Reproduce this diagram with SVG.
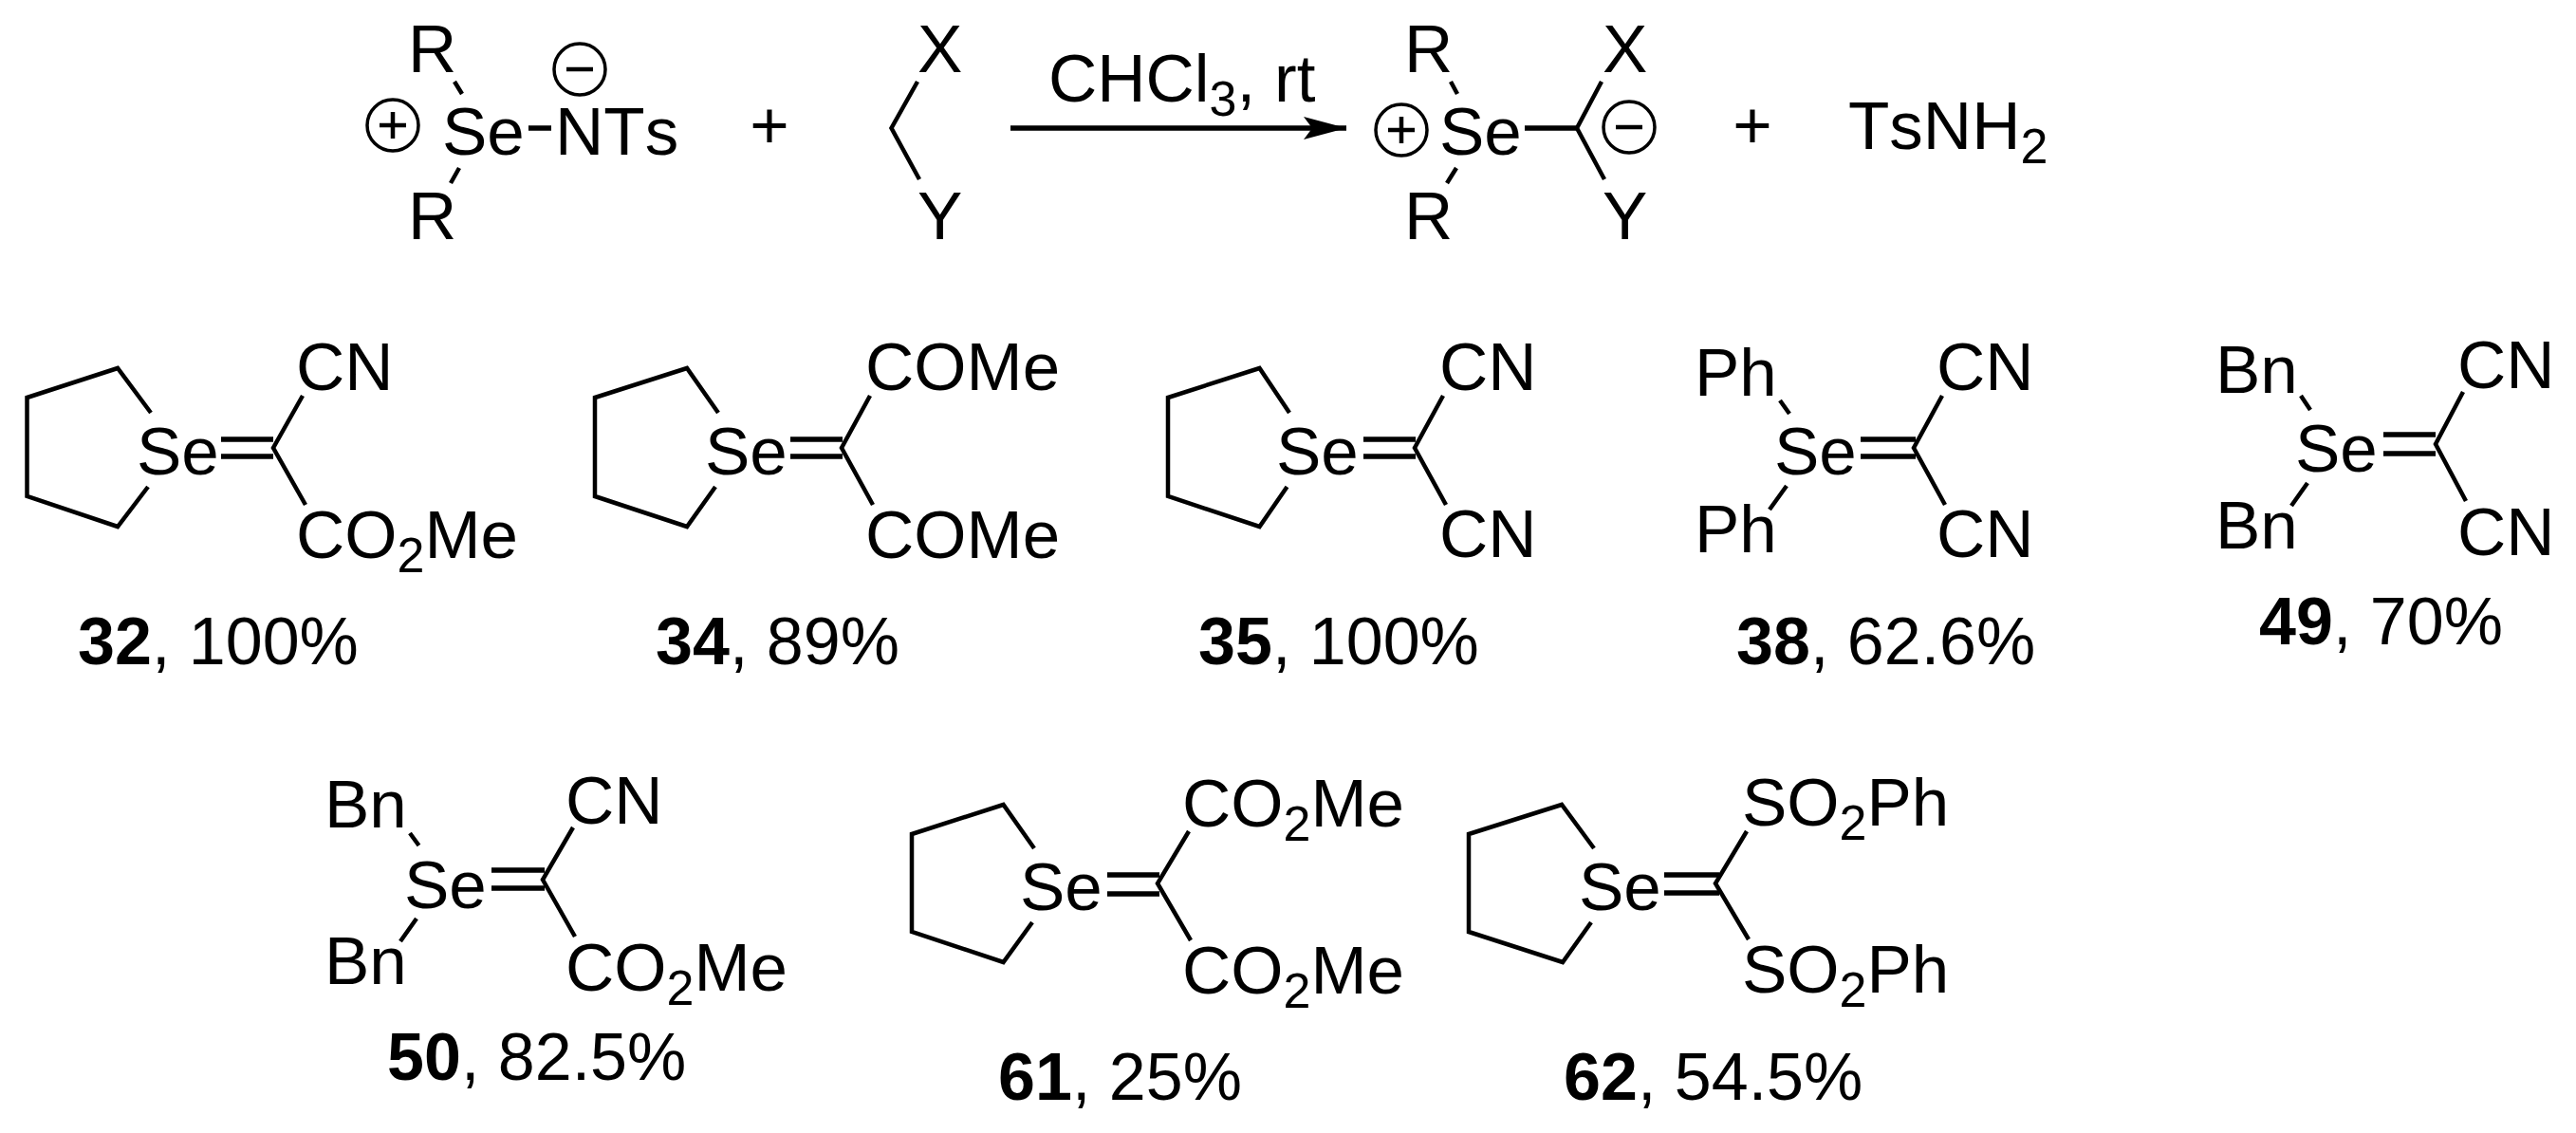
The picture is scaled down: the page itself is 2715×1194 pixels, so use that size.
<svg xmlns="http://www.w3.org/2000/svg" width="2715" height="1194" viewBox="0 0 2715 1194">
<style>
text{font-family:"Liberation Sans",Arial,sans-serif;font-size:71px;font-kerning:none;fill:#000}
.l{font-size:70px}
.s{font-size:52px}
.b{font-weight:bold}
.m{text-anchor:middle}
.bond{fill:none;stroke:#000;stroke-width:4.5;stroke-linecap:butt;stroke-linejoin:miter}
.heavy{fill:none;stroke:#000;stroke-width:5.500}
.chg{fill:none;stroke:#000;stroke-width:3.5}
</style>
<defs>
<marker id="head" markerUnits="userSpaceOnUse" markerWidth="46" markerHeight="26" refX="45" refY="13" orient="auto"><path d="M0 1L45 13L0 25L9 13Z" fill="#000"/></marker>
<g id="plus"><circle r="27" class="chg"/><path d="M-14 0H14M0-14V14" class="chg" style="stroke-width:4.5"/></g>
<g id="minus"><circle r="27" class="chg"/><path d="M-14 0H14" class="chg" style="stroke-width:4.5"/></g>
</defs>
<rect width="2715" height="1194" fill="#fff"/>
<g id="connectors">
<path class="heavy" d="M1065 135H1419" marker-end="url(#head)"/>
<path class="bond" d="M479 86L487 99M484 177L475 193"/>
<path class="heavy" d="M557 135H581"/>
<path class="bond" d="M967 86L939.500 135L969 189"/>
<path class="bond" d="M1529 86L1536 99M1535 177L1525 193M1688 86L1662 135L1691 189"/>
<path class="heavy" d="M1607 135H1662"/>
<path class="bond" d="M159 435L124 388L28.500 419V523L124 555L156 513M319 417L288 472L322 532"/>
<path class="heavy" d="M233 463H288M233 481H288"/>
<path class="bond" d="M757 435L724 388L627 419V523L724 555L754 513M917 417L887 472L920 532"/>
<path class="heavy" d="M833 463H888M833 481H888"/>
<path class="bond" d="M1359 435L1327.500 388L1231 419V523L1327.500 555L1356.500 513M1521 417L1491 472L1524 532"/>
<path class="heavy" d="M1437 463H1492M1437 481H1492"/>
<path class="bond" d="M1876 422L1886 436M1883 512L1865 537M2047 417L2017 472L2050 532"/>
<path class="heavy" d="M1961 463H2019M1961 481H2019"/>
<path class="bond" d="M2425 417L2435 432M2432 509L2415 533M2596 413L2567 468L2599 528"/>
<path class="heavy" d="M2512 458H2567M2512 478H2567"/>
<path class="bond" d="M432 878L441.500 891M439 968L422 992M604 872L572 927L606 987"/>
<path class="heavy" d="M518 917H574M518 936H574"/>
<path class="bond" d="M1090 894L1057.500 848L961 879V982L1057.500 1014L1088 972M1253 876L1220 931L1255 991"/>
<path class="heavy" d="M1167 922H1222M1167 942H1222"/>
<path class="bond" d="M1680 894L1646 848L1548 879V982L1647 1014L1677 972M1841 876L1808 931L1843 990"/>
<path class="heavy" d="M1754 922H1812M1754 941H1812"/>
</g>
<g id="reactant-ylide">
<text x="430" y="76">R</text><text x="430" y="252">R</text>
<use href="#plus" x="414" y="132"/><use href="#minus" x="611" y="73"/>
<text x="466" y="163">Se</text><text x="585" y="163">NTs</text>
</g>
<g id="reactant-methylene"><text x="967" y="76">X</text><text x="967" y="252">Y</text></g>
<g id="plus-1"><text x="811" y="156" class="m">+</text></g>
<g id="conditions"><text x="1105" y="107">CHCl<tspan class="s" dy="15">3</tspan><tspan dy="-15">, rt</tspan></text></g>
<g id="product-ylide">
<text x="1480" y="76">R</text><text x="1480" y="252">R</text>
<use href="#plus" x="1477" y="137"/><use href="#minus" x="1717" y="134"/>
<text x="1517" y="163">Se</text>
<text x="1689" y="76">X</text><text x="1689" y="252">Y</text>
</g>
<g id="plus-2"><text x="1847" y="156" class="m">+</text></g>
<g id="tsnh2"><text x="1948" y="157">TsNH<tspan class="s" dy="15">2</tspan></text></g>
<g id="compound-32">
<text x="144" y="500">Se</text><text x="312" y="411">CN</text>
<text x="312" y="588">CO<tspan class="s" dy="15">2</tspan><tspan dy="-15">Me</tspan></text>
<text class="l" x="82" y="700"><tspan class="b">32</tspan>, 100%</text>
</g>
<g id="compound-34">
<text x="743" y="500">Se</text><text x="912" y="411">COMe</text><text x="912" y="588">COMe</text>
<text class="l" x="691" y="700"><tspan class="b">34</tspan>, 89%</text>
</g>
<g id="compound-35">
<text x="1345" y="500">Se</text><text x="1517" y="411">CN</text><text x="1517" y="587">CN</text>
<text class="l" x="1263" y="700"><tspan class="b">35</tspan>, 100%</text>
</g>
<g id="compound-38">
<text x="1786" y="417">Ph</text><text x="1786" y="582">Ph</text>
<text x="1870" y="500">Se</text><text x="2041" y="411">CN</text><text x="2041" y="587">CN</text>
<text class="l" x="1830" y="700"><tspan class="b">38</tspan>, 62.6%</text>
</g>
<g id="compound-49">
<text x="2335" y="414">Bn</text><text x="2335" y="578">Bn</text>
<text x="2419" y="497">Se</text><text x="2590" y="409">CN</text><text x="2590" y="585">CN</text>
<text class="l" x="2381" y="679"><tspan class="b">49</tspan>, 70%</text>
</g>
<g id="compound-50">
<text x="342" y="872">Bn</text><text x="342" y="1037">Bn</text>
<text x="426" y="957">Se</text><text x="596" y="868">CN</text>
<text x="596" y="1044">CO<tspan class="s" dy="15">2</tspan><tspan dy="-15">Me</tspan></text>
<text class="l" x="408" y="1138"><tspan class="b">50</tspan>, 82.5%</text>
</g>
<g id="compound-61">
<text x="1075" y="959">Se</text>
<text x="1246" y="871">CO<tspan class="s" dy="15">2</tspan><tspan dy="-15">Me</tspan></text>
<text x="1246" y="1047">CO<tspan class="s" dy="15">2</tspan><tspan dy="-15">Me</tspan></text>
<text class="l" x="1052" y="1159"><tspan class="b">61</tspan>, 25%</text>
</g>
<g id="compound-62">
<text x="1664" y="959">Se</text>
<text x="1836" y="870">SO<tspan class="s" dy="15">2</tspan><tspan dy="-15">Ph</tspan></text>
<text x="1836" y="1046">SO<tspan class="s" dy="15">2</tspan><tspan dy="-15">Ph</tspan></text>
<text class="l" x="1648" y="1159"><tspan class="b">62</tspan>, 54.5%</text>
</g>
</svg>
